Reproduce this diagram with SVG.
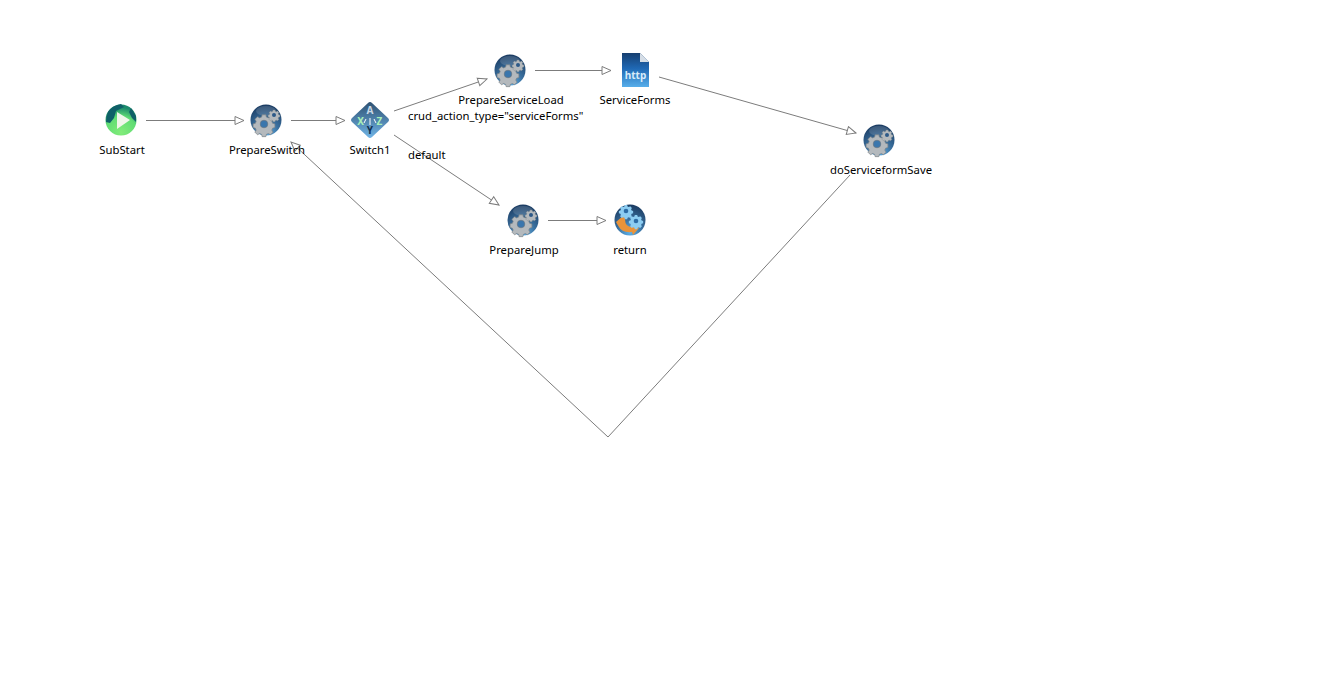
<svg xmlns="http://www.w3.org/2000/svg" xmlns:xlink="http://www.w3.org/1999/xlink" width="1325" height="677" viewBox="0 0 1325 677">
<style>
text{font-family:"Noto Sans","Liberation Sans",sans-serif;font-size:11.3px;fill:#000}
.lbl{text-anchor:middle}
.c{fill:none;stroke:#7c7c7c;stroke-width:1}
.gear{fill:#b4b9bd;stroke:#7b8186;stroke-width:.6}
</style>
<defs>
<radialGradient id="ball" cx="50%" cy="90%" r="90%"><stop offset="0" stop-color="#5db2ec"/><stop offset=".45" stop-color="#3a709f"/><stop offset="1" stop-color="#1a3a60"/></radialGradient>
<radialGradient id="green" cx="50%" cy="90%" r="80%"><stop offset="0" stop-color="#82ec7a"/><stop offset=".65" stop-color="#60dc74"/><stop offset="1" stop-color="#1c8a6c"/></radialGradient>
<linearGradient id="doc" x1="0" y1="0" x2="0" y2="1"><stop offset="0" stop-color="#173f70"/><stop offset=".45" stop-color="#1f68b4"/><stop offset="1" stop-color="#58aeea"/></linearGradient>
<linearGradient id="dia" x1="0" y1="0" x2="0" y2="1"><stop offset="0" stop-color="#2e5172"/><stop offset="1" stop-color="#70b4e6"/></linearGradient>
<marker id="arr" viewBox="0 0 12 10" refX="11" refY="5" markerWidth="12" markerHeight="10" markerUnits="userSpaceOnUse" orient="auto"><path d="M2,1 L11,5 L2,9 Z" fill="#fff" stroke="#7c7c7c" stroke-width="1"/></marker>
<path id="g" d="M-1.6,-8 h3.2 l.5,2 1.7,.7 1.8,-1.1 2.3,2.3 -1.1,1.8 .7,1.7 2,.5 v3.2 l-2,.5 -.7,1.7 1.1,1.8 -2.3,2.3 -1.8,-1.1 -1.7,.7 -.5,2 h-3.2 l-.5,-2 -1.7,-.7 -1.8,1.1 -2.3,-2.3 1.1,-1.8 -.7,-1.700 -2,-.5 v-3.2 l2,-.5 .7,-1.7 -1.100,-1.8 2.3,-2.3 1.8,1.1 1.7,-.7 Z"/>
<g id="svc">
<circle r="15.5" fill="url(#ball)"/>
<ellipse cx="0" cy="-9" rx="10" ry="5" fill="#fff" opacity=".14"/>
<use xlink:href="#g" transform="translate(-2,4) scale(1.15)" class="gear"/><circle cx="-2" cy="4" r="3.8" fill="#3a76ad" stroke="#6d7378" stroke-width=".6"/>
<use xlink:href="#g" transform="translate(8,-5) scale(.62)" class="gear"/><circle cx="8" cy="-5" r="2" fill="#2d5a88"/>
</g>
</defs>
<g id="connectors">
<path class="c" marker-end="url(#arr)" d="M146,120.500 H244"/>
<path class="c" marker-end="url(#arr)" d="M291,120.500 H345"/>
<path class="c" marker-end="url(#arr)" d="M394,111 L487,79"/>
<path class="c" marker-end="url(#arr)" d="M535,70.500 H611"/>
<path class="c" marker-end="url(#arr)" d="M659,77 L856,133"/>
<path class="c" marker-end="url(#arr)" d="M394,135 L499,205"/>
<path class="c" marker-end="url(#arr)" d="M548,220.500 H606"/>
<path class="c" marker-end="url(#arr)" d="M850,175 L608,437 L291,142"/>
</g>
<g id="SubStart">
<circle cx="121" cy="120" r="15.5" fill="url(#green)"/>
<path d="M108,112 q5,-7 13,-8 l3,3 -8,4 -2,7 -4,5 -4,-1 q0,-6 2,-10Z M131,108 l5,8 v6 l-4,-4 -3,-6Z" fill="#0f6068"/>
<path d="M117,112 L130,120 L117,129 Z" fill="#f0f6ea"/>
<text class="lbl" x="122" y="154">SubStart</text>
</g>
<g id="PrepareSwitch"><use xlink:href="#svc" x="266" y="120"/><text class="lbl" x="267" y="154">PrepareSwitch</text></g>
<g id="Switch1">
<path d="M368,103 Q370,101 372,103 L388,118 Q390,120 388,122 L372,137 Q370,139 368,137 L352,122 Q350,120 352,118 Z" fill="url(#dia)"/>
<text x="370" y="114" text-anchor="middle" style="font-size:10px;font-weight:bold;fill:#c8d8e6">A</text>
<text x="360.500" y="125" text-anchor="middle" style="font-size:10px;font-weight:bold;fill:#a8f0b8">X</text>
<text x="379.500" y="125" text-anchor="middle" style="font-size:10px;font-weight:bold;fill:#a8f0b8">Z</text>
<text x="370" y="134" text-anchor="middle" style="font-size:10px;font-weight:bold;fill:#12304e">Y</text>
<path d="M370,118 V125 M366,119 L364,123 M374,119 L376,123" stroke="#fff" fill="none"/>
<text class="lbl" x="370" y="154">Switch1</text>
</g>
<g id="PrepareServiceLoad"><use xlink:href="#svc" x="510" y="70"/><text class="lbl" x="511" y="104">PrepareServiceLoad</text></g>
<g id="ServiceForms">
<path d="M622,53 H640 L649,62 V87 H622 Z" fill="url(#doc)"/>
<path d="M640,53 L649,62 H640 Z" fill="#d5dde6"/>
<text x="635.500" y="79" text-anchor="middle" style="font-size:10px;font-weight:bold;fill:#d8ebf9">http</text>
<text class="lbl" x="635" y="104">ServiceForms</text>
</g>
<g id="doServiceformSave"><use xlink:href="#svc" x="879" y="140"/><text class="lbl" x="881" y="174">doServiceformSave</text></g>
<g id="PrepareJump"><use xlink:href="#svc" x="523" y="220"/><text class="lbl" x="524" y="254">PrepareJump</text></g>
<g id="return">
<circle cx="630" cy="220" r="15.5" fill="url(#ball)"/>
<path d="M616,222 l8,-7 l1,4 q0,8 7,8 l0,-3 l7,4 l-6,7 l-1,-3 q-10,1 -13,-5 q-2,-3 -3,-5Z" fill="#e8933a"/>
<use xlink:href="#g" transform="translate(626,211) scale(.75)" fill="#8ccdf2"/><circle cx="626" cy="211" r="2.300" fill="#2d6da6"/>
<use xlink:href="#g" transform="translate(636,221) scale(.75)" fill="#8ccdf2"/><circle cx="636" cy="221" r="2.300" fill="#2d6da6"/>
<text class="lbl" x="630" y="254">return</text>
</g>
<text id="label-crud" x="408" y="120">crud_action_type="serviceForms"</text>
<text id="label-default" x="408" y="159">default</text>
</svg>
